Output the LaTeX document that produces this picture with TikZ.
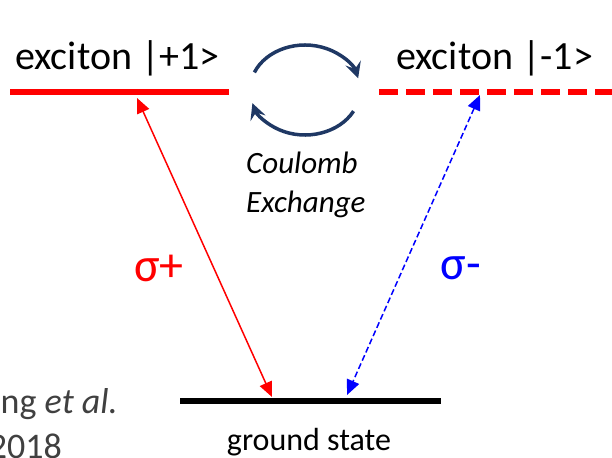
\documentclass[tikz,border=0pt]{standalone}
\usepackage{fontspec}
\setmainfont{Carlito}
\usetikzlibrary{arrows.meta,positioning,calc}
\definecolor{navy}{HTML}{1F3864}
\definecolor{citegray}{HTML}{404040}
\tikzset{
  level/.style={line width=6pt},
  transition/.style={line width=1.5pt,{Triangle[length=15pt,width=13pt]}-{Triangle[length=15pt,width=13pt]}},
  exchange/.style={navy,line width=3.5pt,-{Stealth[length=16pt,width=16pt,inset=6pt]}}
}
\newcommand{\bigfont}{\fontsize{40}{49}\selectfont}
\newcommand{\citefont}{\fontsize{36}{44}\selectfont}

\begin{document}
\begin{tikzpicture}[x=1pt,y=-1pt,>=Latex]
\useasboundingbox (0,0) rectangle (612,457);
\clip (0,0) rectangle (612,457);
% energy levels
\coordinate (plusL) at (10,92);
\coordinate (plusR) at (229,92);
\coordinate (minusL) at (379,92);
\coordinate (minusR) at (612,92);
\coordinate (gndL) at (180,401);
\coordinate (gndR) at (441,401);
\draw[level,red] (plusL) -- (plusR);
\draw[level,red,dash pattern=on 19pt off 8pt] (minusL) -- (minusR);
\draw[level,black] (gndL) -- (gndR);
\node[anchor=base west,inner sep=0pt,font=\bigfont] (plus) at (15,69.5) {exciton |+1>};
\node[anchor=base west,inner sep=0pt,font=\bigfont] (minus) at (396,69.5) {exciton |-1>};
\node[anchor=base,inner sep=0pt,font=\fontsize{32}{38}\selectfont] (gnd) at (309,450) {ground state};
% optical transitions
\coordinate (plusTop) at (137,98);
\coordinate (plusBot) at (272,397);
\coordinate (minusTop) at (480,95);
\coordinate (minusBot) at (347,395);
\draw[transition,red] (plusTop) -- (plusBot);
\draw[transition,blue,dash pattern=on 6pt off 3pt] (minusTop) -- (minusBot);
\node[red,inner sep=0pt,font=\fontsize{48}{56}\selectfont] (sigp) at (159,268) {σ+};
\node[blue,inner sep=0pt,font=\fontsize{48}{56}\selectfont] (sigm) at (461,268) {σ-};
% coulomb exchange
\draw[exchange] (305,90) ++(203:55 and 45) arc[start angle=203,end angle=345,x radius=55,y radius=45];
\draw[exchange] (305,90) ++(28:55 and 45) arc[start angle=28,end angle=163,x radius=55,y radius=45];
\node[anchor=west,align=left,inner sep=0pt,font=\fontsize{31}{39}\selectfont\itshape] (coul) at (246,185) {Coulomb\\Exchange};
% citation
\node[anchor=base east,inner sep=0pt,text=citegray,font=\citefont] (cite) at (118,413) {ng \textit{et al.}};
\node[anchor=base east,inner sep=0pt,text=citegray,font=\citefont] (year) at (62,458) {2018};
\end{tikzpicture}
\end{document}
